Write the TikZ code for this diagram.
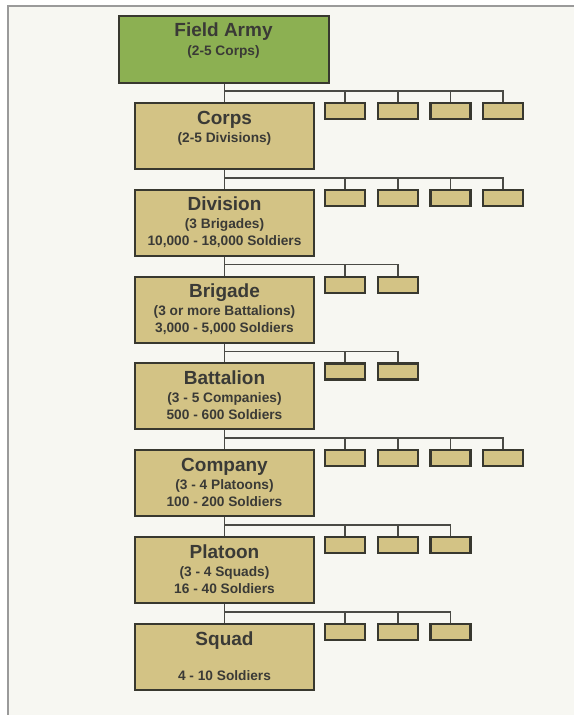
\documentclass[tikz,border=0pt]{standalone}
\usepackage{fontspec}
\setmainfont{Liberation Sans}
\usetikzlibrary{positioning}

\definecolor{armygreen}{HTML}{8CB052}
\definecolor{unittan}{HTML}{D3C385}
\definecolor{edgegray}{HTML}{38382F}
\definecolor{linegray}{HTML}{4A4A45}
\definecolor{paper}{HTML}{F7F7F2}
\definecolor{framegray}{HTML}{9A9A9A}
\definecolor{inkgray}{HTML}{3A3A36}

\tikzset{
	unit/.style={draw=edgegray, line width=2pt, fill=unittan, minimum width=179pt, minimum height=66pt, inner sep=0pt},
	top unit/.style={unit, fill=armygreen, minimum width=210pt, minimum height=67pt},
	sub/.style={draw=edgegray, line width=2.2pt, fill=unittan, minimum width=40pt, minimum height=16pt, inner sep=0pt},
	title/.style={anchor=base, text=inkgray, inner sep=0pt, font=\fontsize{19}{22}\selectfont\bfseries},
	info/.style={anchor=base, text=inkgray, inner sep=0pt, font=\fontsize{13.7}{16}\selectfont\bfseries},
	link/.style={draw=linegray, line width=1.7pt},
	node distance=18.8pt and 10.5pt,
}

\begin{document}
\begin{tikzpicture}
	\useasboundingbox (0pt,0pt) rectangle (574pt,-715pt);
	\fill[paper] (8pt,-6pt) rectangle (574pt,-715pt);
	\draw[framegray, line width=1.5pt] (8pt,-715pt) -- (8pt,-6pt) -- (574pt,-6pt);

	% main chain
	\node[top unit] (army) at (223.5pt,-49.5pt) {};
	\node[unit] (corps) at (224.5pt,-136pt) {};
	\node[unit, below=of corps] (div) {};
	\node[unit, below=of div] (brig) {};
	\node[unit, below=of brig] (batt) {};
	\node[unit, below=of batt] (coy) {};
	\node[unit, below=of coy] (plt) {};
	\node[unit, below=of plt] (sqd) {};

	% texts
	\node[title] (army-t) at ([yshift=-21pt]army.north) {Field Army};
	\node[info] (army-s) at ([yshift=-40pt]army.north) {(2-5 Corps)};
	\node[title] (corps-t) at ([yshift=-22pt]corps.north) {Corps};
	\node[info] (corps-s) at ([yshift=-40pt]corps.north) {(2-5 Divisions)};
	\node[title] (div-t) at ([yshift=-22pt]div.north) {Division};
	\node[info] (div-s) at ([yshift=-40pt]div.north) {(3 Brigades)};
	\node[info] (div-n) at ([yshift=-57pt]div.north) {10,000 - 18,000 Soldiers};
	\node[title] (brig-t) at ([yshift=-22pt]brig.north) {Brigade};
	\node[info] (brig-s) at ([yshift=-40pt]brig.north) {(3 or more Battalions)};
	\node[info] (brig-n) at ([yshift=-57pt]brig.north) {3,000 - 5,000 Soldiers};
	\node[title] (batt-t) at ([yshift=-22pt]batt.north) {Battalion};
	\node[info] (batt-s) at ([yshift=-40pt]batt.north) {(3 - 5 Companies)};
	\node[info] (batt-n) at ([yshift=-57pt]batt.north) {500 - 600 Soldiers};
	\node[title] (coy-t) at ([yshift=-22pt]coy.north) {Company};
	\node[info] (coy-s) at ([yshift=-40pt]coy.north) {(3 - 4 Platoons)};
	\node[info] (coy-n) at ([yshift=-57pt]coy.north) {100 - 200 Soldiers};
	\node[title] (plt-t) at ([yshift=-22pt]plt.north) {Platoon};
	\node[info] (plt-s) at ([yshift=-40pt]plt.north) {(3 - 4 Squads)};
	\node[info] (plt-n) at ([yshift=-57pt]plt.north) {16 - 40 Soldiers};
	\node[title] (sqd-t) at ([yshift=-23pt]sqd.north) {Squad};
	\node[info] (sqd-n) at ([yshift=-58pt]sqd.north) {4 - 10 Soldiers};

	% sub units
	\node[sub, below right=0pt and 9pt of corps.north east] (corps1) {};
	\node[sub, right=of corps1] (corps2) {};
	\node[sub, right=of corps2] (corps3) {};
	\node[sub, right=of corps3] (corps4) {};
	\node[sub, below right=0pt and 9pt of div.north east] (div1) {};
	\node[sub, right=of div1] (div2) {};
	\node[sub, right=of div2] (div3) {};
	\node[sub, right=of div3] (div4) {};
	\node[sub, below right=0pt and 9pt of brig.north east] (brig1) {};
	\node[sub, right=of brig1] (brig2) {};
	\node[sub, below right=0pt and 9pt of batt.north east] (batt1) {};
	\node[sub, right=of batt1] (batt2) {};
	\node[sub, below right=0pt and 9pt of coy.north east] (coy1) {};
	\node[sub, right=of coy1] (coy2) {};
	\node[sub, right=of coy2] (coy3) {};
	\node[sub, right=of coy3] (coy4) {};
	\node[sub, below right=0pt and 9pt of plt.north east] (plt1) {};
	\node[sub, right=of plt1] (plt2) {};
	\node[sub, right=of plt2] (plt3) {};
	\node[sub, below right=0pt and 9pt of sqd.north east] (sqd1) {};
	\node[sub, right=of sqd1] (sqd2) {};
	\node[sub, right=of sqd2] (sqd3) {};

	% bus points
	\coordinate (corps-bus) at ([yshift=11pt]corps.north);
	\coordinate (div-bus) at ([yshift=11pt]div.north);
	\coordinate (brig-bus) at ([yshift=11pt]brig.north);
	\coordinate (batt-bus) at ([yshift=11pt]batt.north);
	\coordinate (coy-bus) at ([yshift=11pt]coy.north);
	\coordinate (plt-bus) at ([yshift=11pt]plt.north);
	\coordinate (sqd-bus) at ([yshift=11pt]sqd.north);

	% spine
	\draw[link] (army.south -| corps.north) -- (corps) -- (div) -- (brig) -- (batt) -- (coy) -- (plt) -- (sqd);

	% branches
	\draw[link] (corps4.north) |- (corps-bus) (corps3.north) |- (corps-bus) (corps2.north) |- (corps-bus) (corps1.north) |- (corps-bus);
	\draw[link] (div4.north) |- (div-bus) (div3.north) |- (div-bus) (div2.north) |- (div-bus) (div1.north) |- (div-bus);
	\draw[link] (brig2.north) |- (brig-bus) (brig1.north) |- (brig-bus);
	\draw[link] (batt2.north) |- (batt-bus) (batt1.north) |- (batt-bus);
	\draw[link] (coy4.north) |- (coy-bus) (coy3.north) |- (coy-bus) (coy2.north) |- (coy-bus) (coy1.north) |- (coy-bus);
	\draw[link] (plt3.north) |- (plt-bus) (plt2.north) |- (plt-bus) (plt1.north) |- (plt-bus);
	\draw[link] (sqd3.north) |- (sqd-bus) (sqd2.north) |- (sqd-bus) (sqd1.north) |- (sqd-bus);
\end{tikzpicture}
\end{document}
